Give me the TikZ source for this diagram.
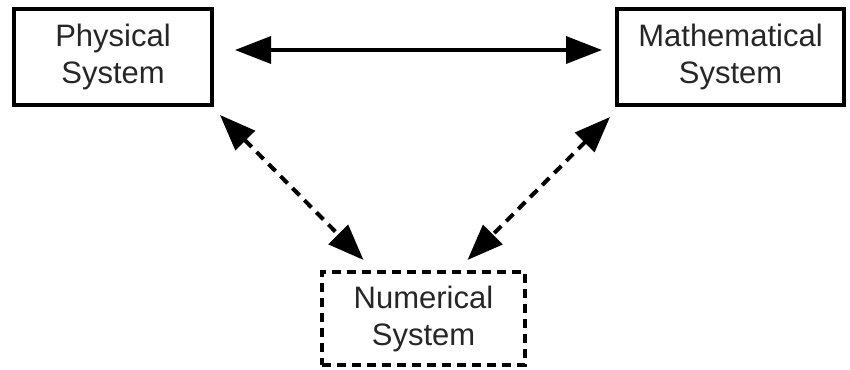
\documentclass[tikz,border=0pt]{standalone}
\usepackage{fontspec}
\setmainfont{Liberation Sans}
\usetikzlibrary{arrows.meta}
\tikzset{
  sysbox/.style={draw=black, line width=4pt, inner sep=0pt, align=center,
    text=black!85, font=\fontsize{31}{37}\selectfont},
  dashbox/.style={sysbox, dash pattern=on 9pt off 6pt},
  link/.style={line width=3.5pt, {Triangle[length=36pt,width=27pt]}-{Triangle[length=36pt,width=27pt]}},
  dashlink/.style={link, line width=4pt, dash pattern=on 10pt off 7pt}
}
\begin{document}
\begin{tikzpicture}[x=1pt, y=-1pt]
  \useasboundingbox (0,0) rectangle (850,369);
  \node[sysbox, minimum width=198pt, minimum height=96pt] (phys) at (113,57) {Physical\\System};
  \node[sysbox, minimum width=227pt, minimum height=96pt] (math) at (730.5,57) {Mathematical\\System};
  \node[dashbox, minimum width=203pt, minimum height=93pt] (num) at (423.5,318.5) {Numerical\\System};
  % solid link between the two upper systems
  \draw[link, shorten <=21pt, shorten >=13pt] ([yshift=7pt]phys.east) -- ([yshift=7pt]math.west);
  % dashed links down to the numerical system
  \draw[dashlink] ([xshift=6pt,yshift=-8pt]phys.south east) -- ([xshift=-60pt,yshift=10pt]num.north);
  \draw[dashlink] ([xshift=-5pt,yshift=-10pt]math.south west) -- ([xshift=44pt,yshift=10pt]num.north);
\end{tikzpicture}
\end{document}
